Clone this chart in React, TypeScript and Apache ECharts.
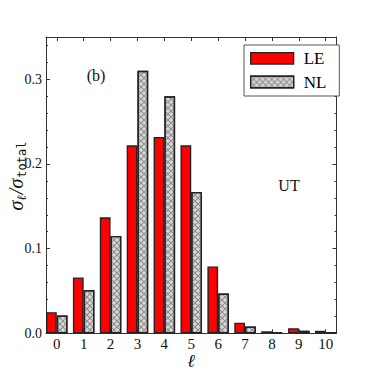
import React, { useEffect, useRef } from 'react';
import * as echarts from 'echarts';

const categories = ['0', '1', '2', '3', '4', '5', '6', '7', '8', '9', '10'];
const leValues = [0.025, 0.066, 0.137, 0.222, 0.232, 0.222, 0.079, 0.0125, 0.0024, 0.006, 0.003];
const nlValues = [0.021, 0.051, 0.115, 0.31, 0.28, 0.167, 0.047, 0.008, 0.0012, 0.003, 0.0012];
const seriesNames = ['LE', 'NL'];
const yMin = 0;
const yMax = 0.35;
const yMajor = 0.1;
const yMinor = 0.02;

const SERIF = '"Liberation Serif", "DejaVu Serif", serif';
const FRAME = '#333';

export default function App() {
  const ref = useRef<HTMLDivElement>(null);
  useEffect(() => {
    if (!ref.current) return;
    const chart = echarts.init(ref.current, null, { renderer: 'svg' });
    const W = 374;
    const gA = { left: 46, right: 37.5, top: 37, bottom: 37.7 };
    const plotW = W - gA.left - gA.right;
    const catW = plotW / (categories.length - 0.2);
    const off = catW * 0.1;
    const gB = { left: gA.left - off, right: gA.right - off, top: gA.top, bottom: gA.bottom };

    const frameX = (position: string) => ({
      gridIndex: 0, type: 'value', position, min: 0, max: 1,
      axisLine: { show: true, onZero: false, lineStyle: { color: FRAME, width: 1 } },
      axisTick: { show: false }, axisLabel: { show: false }, splitLine: { show: false },
    });
    const yAx = (position: string, interval: number, len: number, line: boolean, labels: boolean) => ({
      gridIndex: 0, type: 'value', position, min: yMin, max: yMax, interval,
      axisLine: { show: line, lineStyle: { color: FRAME, width: 1 } },
      axisTick: { show: true, inside: true, length: len, lineStyle: { color: FRAME, width: 1 } },
      axisLabel: {
        show: labels, showMaxLabel: false, margin: 4, fontFamily: SERIF, fontSize: 14, color: '#111',
        formatter: (v: number) => v.toFixed(1),
      },
      splitLine: { show: false },
    });

    const option: any = {
      animation: false,
      grid: [
        { ...gA, containLabel: false },
        { ...gB, containLabel: false },
      ],
      xAxis: [
        frameX('bottom'),
        frameX('top'),
        {
          gridIndex: 1, type: 'category', position: 'bottom', data: categories,
          axisLine: { show: false },
          axisTick: { show: true, inside: true, alignWithLabel: true, length: 4, lineStyle: { color: FRAME } },
          axisLabel: { margin: 3, fontFamily: SERIF, fontSize: 15, color: '#111' },
        },
        {
          gridIndex: 1, type: 'category', position: 'top', data: categories,
          axisLine: { show: false },
          axisTick: { show: true, inside: true, alignWithLabel: true, length: 4, lineStyle: { color: FRAME } },
          axisLabel: { show: false },
        },
      ],
      yAxis: [
        yAx('left', yMajor, 4, true, true),
        yAx('left', yMinor, 2, false, false),
        yAx('right', yMajor, 4, true, false),
        yAx('right', yMinor, 2, false, false),
        { gridIndex: 1, type: 'value', min: yMin, max: yMax, show: false },
      ],
      legend: {
        data: seriesNames, orient: 'vertical', left: 244, top: 45,
        padding: [4.3, 13, 5, 6], itemWidth: 43, itemHeight: 11.5, itemGap: 5.7,
        borderColor: '#555', borderWidth: 1, backgroundColor: '#fff', borderRadius: 0,
        icon: 'rect',
        itemStyle: { borderColor: '#222', borderWidth: 1.3 },
        textStyle: { fontFamily: SERIF, fontSize: 17, color: '#000', lineHeight: 18, padding: [0, 0, 0, 5] },
      },
      series: [
        {
          name: seriesNames[0], type: 'bar', xAxisIndex: 2, yAxisIndex: 4, data: leValues,
          barCategoryGap: '20%', barGap: '0%',
          itemStyle: { color: '#ff0000', borderColor: '#222', borderWidth: 1.4 },
        },
        {
          name: seriesNames[1], type: 'bar', xAxisIndex: 2, yAxisIndex: 4, data: nlValues,
          barCategoryGap: '20%', barGap: '0%',
          itemStyle: {
            color: '#d8d8d8', borderColor: '#222', borderWidth: 1.4,
            decal: {
              symbol: 'path://M0,0L1.2,0L10,8.8L10,10L8.8,10L0,1.2Z M10,0L10,1.2L1.2,10L0,10L0,8.8L8.8,0Z',
              symbolSize: 1, dashArrayX: [6, 0], dashArrayY: [6, 0],
              color: '#8a8a8a', backgroundColor: '#d8d8d8',
            },
          },
        },
      ],
      graphic: [
        {
          type: 'text', x: 96, y: 75,
          style: { text: '(b)', font: `16px ${SERIF}`, fill: '#111', align: 'center', verticalAlign: 'middle' },
        },
        {
          type: 'text', x: 289, y: 185,
          style: { text: 'UT', font: `16px ${SERIF}`, fill: '#111', align: 'center', verticalAlign: 'middle' },
        },
        {
          type: 'text', x: 191, y: 361,
          style: { text: 'ℓ', font: `italic 18px ${SERIF}`, fill: '#111', align: 'center', verticalAlign: 'middle' },
        },
        {
          type: 'text', x: 16, y: 176, rotation: Math.PI / 2,
          style: {
            text: '{s|σ}{sub|ℓ}{s|/σ}{tt|total}',
            align: 'center', verticalAlign: 'middle', fill: '#111',
            rich: {
              s: { fontFamily: SERIF, fontStyle: 'italic', fontSize: 20, fill: '#111' },
              sub: { fontFamily: SERIF, fontStyle: 'italic', fontSize: 13, padding: [11, 1, 0, 0], fill: '#111' },
              tt: { fontFamily: '"DejaVu Sans Mono", "Liberation Mono", monospace', fontSize: 12, padding: [11, 0, 0, 1], fill: '#111' },
            },
          },
        },
      ],
    };
    chart.setOption(option);
    return () => chart.dispose();
  }, []);
  return <div ref={ref} style={{ width: 374, height: 371, position: 'absolute', left: 0, top: 0 }} />;
}
